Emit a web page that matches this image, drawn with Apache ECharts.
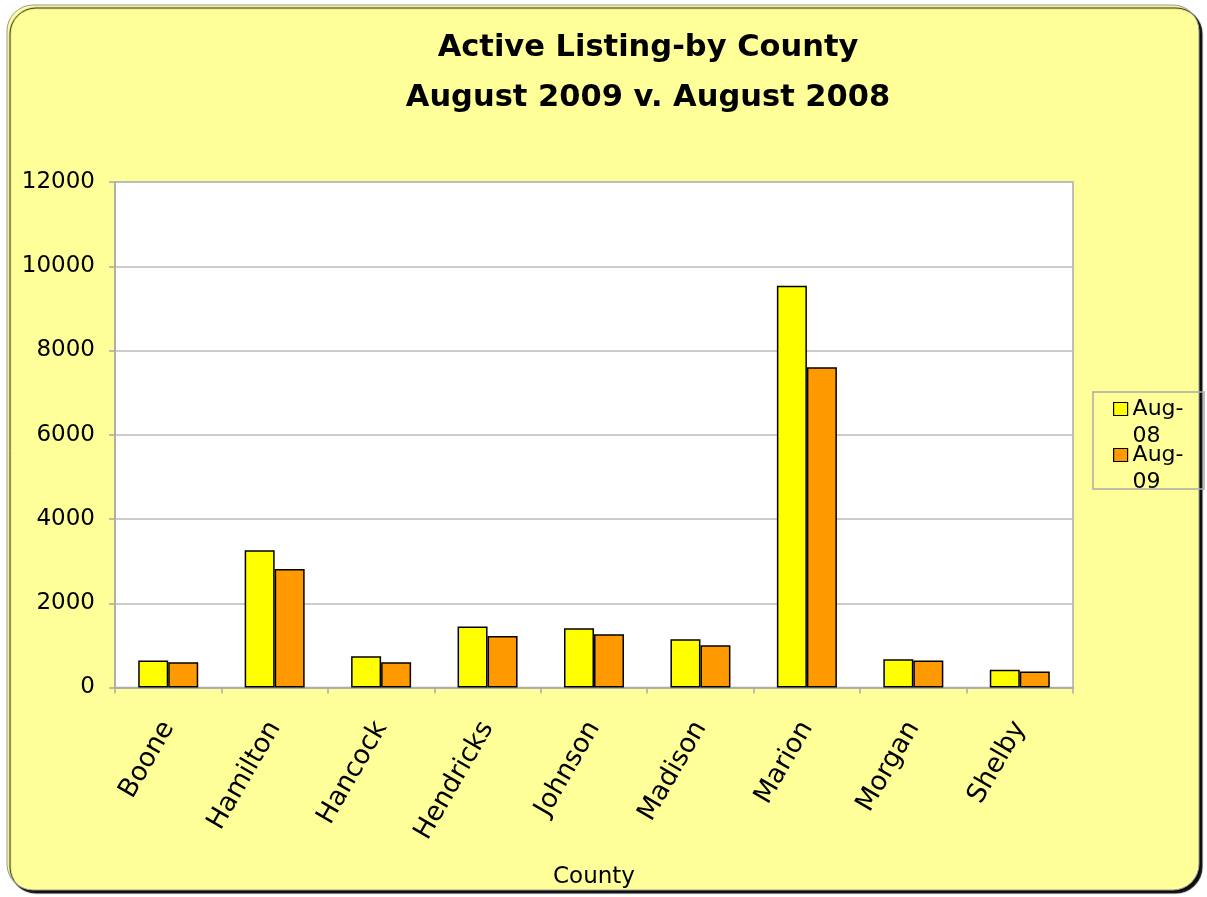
<!DOCTYPE html>
<html>
<head>
<meta charset="utf-8">
<script src="https://cdn.jsdelivr.net/npm/echarts@6/dist/echarts.min.js"></script>
<style>
html,body{margin:0;padding:0;background:#fff;}
#c{width:1207px;height:897px;}
</style>
</head>
<body>
<div id="c"></div>
<script>
var titleLines = ['Active Listing-by County', 'August 2009 v. August 2008'];
var categories = ['Boone', 'Hamilton', 'Hancock', 'Hendricks', 'Johnson', 'Madison', 'Marion', 'Morgan', 'Shelby'];
var seriesNames = ['Aug-08', 'Aug-09'];
var aug08 = [640, 3256, 742, 1447, 1407, 1146, 9540, 672, 419];
var aug09 = [600, 2815, 600, 1225, 1265, 1004, 7604, 640, 380];
var yTicks = {min: 0, max: 12000, interval: 2000};
var xName = 'County';

var font = 'DejaVu Sans';
var chart = echarts.init(document.getElementById('c'), null, {renderer: 'canvas'});
chart.setOption({
  animation: false,
  backgroundColor: 'transparent',
  textStyle: {fontFamily: font},
  graphic: [
    {type: 'rect', z: -10, silent: true,
     shape: {x: 7, y: 5, width: 1192, height: 885, r: 26},
     style: {fill: '#FFFF99', stroke: '#999999', lineWidth: 1,
             shadowColor: 'rgba(0,0,0,0.95)', shadowOffsetX: 3, shadowOffsetY: 3, shadowBlur: 1}},
    {type: 'rect', z: 1, silent: true,
     shape: {x: 1093, y: 392, width: 111, height: 97},
     style: {fill: 'none', stroke: '#AAAAAA', lineWidth: 1.5}}
  ],
  title: {
    text: titleLines.join('\n'),
    left: 643, top: 18, textAlign: 'center',
    textStyle: {fontFamily: font, fontWeight: 'bold', fontSize: 30.5, lineHeight: 50, color: '#000'}
  },
  legend: {
    orient: 'vertical', left: 1113, top: 368.5, padding: 0, itemGap: -35,
    itemWidth: 14, itemHeight: 13, icon: 'rect',
    data: seriesNames,
    formatter: function (n) { return '\n' + n.replace('-', '-\n'); },
    itemStyle: {borderColor: '#000', borderWidth: 1.2},
    textStyle: {fontFamily: font, fontSize: 22, lineHeight: 27, color: '#000'}
  },
  grid: {left: 115, right: 134, top: 182, bottom: 209.5, show: true,
         backgroundColor: '#fff', borderColor: '#AAAAAA', borderWidth: 1.5},
  xAxis: {
    type: 'category', data: categories,
    name: xName, nameLocation: 'middle', nameGap: 178,
    nameTextStyle: {fontFamily: font, fontSize: 23, color: '#000'},
    axisLine: {lineStyle: {color: '#AAAAAA', width: 1.5}},
    axisTick: {show: true, length: 6, lineStyle: {color: '#AAAAAA', width: 1.5}},
    axisLabel: {rotate: 60, margin: 36, fontFamily: font, fontSize: 26.5, color: '#000'}
  },
  yAxis: {
    type: 'value', min: yTicks.min, max: yTicks.max, interval: yTicks.interval,
    axisLine: {show: true, lineStyle: {color: '#AAAAAA', width: 1.5}},
    axisTick: {show: true, length: 6, lineStyle: {color: '#AAAAAA', width: 1.5}},
    splitLine: {lineStyle: {color: '#BBBBBB', width: 1.5}},
    axisLabel: {margin: 20, fontFamily: font, fontSize: 23, color: '#000',
                formatter: function (v) { return String(v); }}
  },
  series: [
    {name: seriesNames[0], type: 'bar', data: aug08, barWidth: 30, barGap: '0%',
     itemStyle: {color: '#FFFF00', borderColor: '#000', borderWidth: 1.5}},
    {name: seriesNames[1], type: 'bar', data: aug09, barWidth: 30, barGap: '0%',
     itemStyle: {color: '#FF9900', borderColor: '#000', borderWidth: 1.5}}
  ]
});
</script>
</body>
</html>
